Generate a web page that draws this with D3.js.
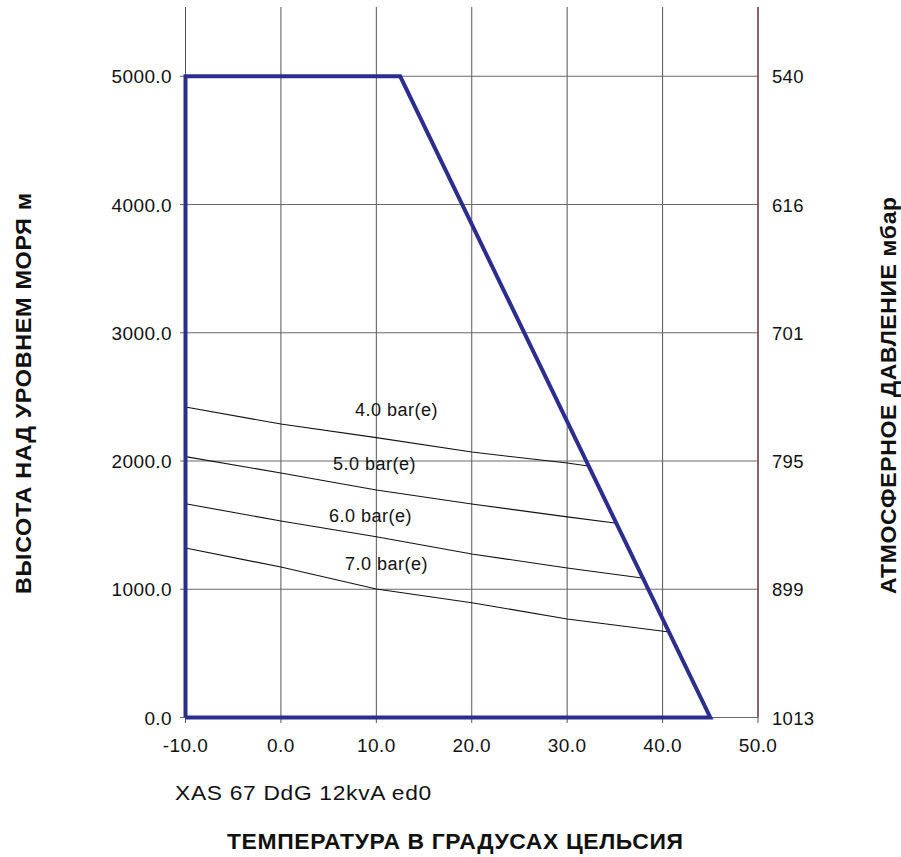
<!DOCTYPE html>
<html><head><meta charset="utf-8">
<script src="https://cdn.jsdelivr.net/npm/d3@7"></script>
<style>body{margin:0;background:#fff}svg{display:block}text{font-family:"Liberation Sans",Arial,sans-serif;fill:#111}</style>
</head><body><svg id="c" width="901" height="857"></svg>
<script>
const xTicks = [-10, 0, 10, 20, 30, 40, 50];
const yTicks = [0, 1000, 2000, 3000, 4000, 5000];
const pressureLabels = ["1013", "899", "795", "701", "616", "540"];
// operating envelope (temperature °C, altitude m)
const envT = [-10, -10, 12.5, 45, -10];
const envH = [0, 5000, 5000, 0, 0];
// pressure curves
const curveNames = ["4.0 bar(e)", "5.0 bar(e)", "6.0 bar(e)", "7.0 bar(e)"];
const curveT = [
  [-10, 0, 10, 20, 30, 32.2],
  [-10, 0, 10, 20, 30, 35.0],
  [-10, 0, 10, 20, 30, 37.85],
  [-10, 0, 10, 20, 30, 40.7]
];
const curveH = [
  [2421, 2288, 2182, 2070, 1984, 1961],
  [2034, 1906, 1774, 1665, 1564, 1517],
  [1667, 1532, 1410, 1275, 1166, 1088],
  [1322, 1173, 1002, 895, 768, 667]
];
const labelPos = [[7.76, 2351], [5.46, 1930], [5.04, 1524], [6.72, 1150]];

const svg = d3.select("#c");
const x = d3.scaleLinear().domain([-10, 50]).range([185.5, 758]);
const y = d3.scaleLinear().domain([0, 5540]).range([717.5, 7]);
const fmt = d => d3.format(".1f")(d).replace("−", "-");

// vertical grid
svg.append("g").selectAll("line").data(xTicks).join("line")
  .attr("x1", d => x(d)).attr("x2", d => x(d)).attr("y1", y(5540)).attr("y2", 723)
  .attr("stroke", "#555").attr("stroke-width", 1);
// horizontal grid
svg.append("g").selectAll("line").data(yTicks).join("line")
  .attr("x1", 180).attr("x2", x(50)).attr("y1", d => y(d)).attr("y2", d => y(d))
  .attr("stroke", "#6a6a6a").attr("stroke-width", 1);
// right axis line
svg.append("line").attr("x1", x(50)).attr("x2", x(50)).attr("y1", y(5540)).attr("y2", y(0))
  .attr("stroke", "#8a4a4a").attr("stroke-width", 1.5);

// tick labels
svg.append("g").selectAll("text").data(yTicks).join("text")
  .attr("x", 172).attr("y", d => y(d) + 7).attr("text-anchor", "end")
  .attr("font-size", 19).attr("letter-spacing", 0.4).text(fmt);
svg.append("g").selectAll("text").data(yTicks).join("text")
  .attr("x", 772).attr("y", d => y(d) + 7)
  .attr("font-size", 18.5).attr("letter-spacing", 0.3).text((d, i) => pressureLabels[i]);
svg.append("g").selectAll("text").data(xTicks).join("text")
  .attr("x", d => x(d)).attr("y", 752).attr("text-anchor", "middle")
  .attr("font-size", 19).attr("letter-spacing", 0.4).text(fmt);

// curves
const line = d3.line().x(d => x(d[0])).y(d => y(d[1]));
curveT.forEach((ts, i) => {
  svg.append("path").datum(ts.map((t, j) => [t, curveH[i][j]]))
    .attr("d", line).attr("fill", "none").attr("stroke", "#111").attr("stroke-width", 1.1);
  svg.append("text").attr("x", x(labelPos[i][0])).attr("y", y(labelPos[i][1]))
    .attr("font-size", 18).attr("letter-spacing", 0.5).text(curveNames[i]);
});

// envelope
svg.append("path").datum(envT.map((t, j) => [t, envH[j]]))
  .attr("d", line).attr("fill", "none").attr("stroke", "#2b2e8e").attr("stroke-width", 4)
  .attr("stroke-linejoin", "miter");

// texts stretched horizontally to the reference width
function stretched(tx, ty, rot, size, bold, width, str) {
  const g = svg.append("g").attr("transform", `translate(${tx},${ty}) rotate(${rot})`);
  const t = g.append("text").attr("font-size", size).attr("font-weight", bold ? "bold" : "normal")
    .attr("letter-spacing", 0.6).text(str);
  const w = t.node().getComputedTextLength();
  t.attr("transform", `scale(${width / w},1)`);
}
stretched(175, 800, 0, 20, false, 257, "XAS 67 DdG 12kvA ed0");
stretched(227, 849, 0, 21.5, true, 457, "ТЕМПЕРАТУРА В ГРАДУСАХ ЦЕЛЬСИЯ");
stretched(31, 594, -90, 21.5, true, 402, "ВЫСОТА НАД УРОВНЕМ МОРЯ м");
stretched(896, 594, -90, 21.5, true, 398, "АТМОСФЕРНОЕ ДАВЛЕНИЕ мбар");
</script></body></html>
